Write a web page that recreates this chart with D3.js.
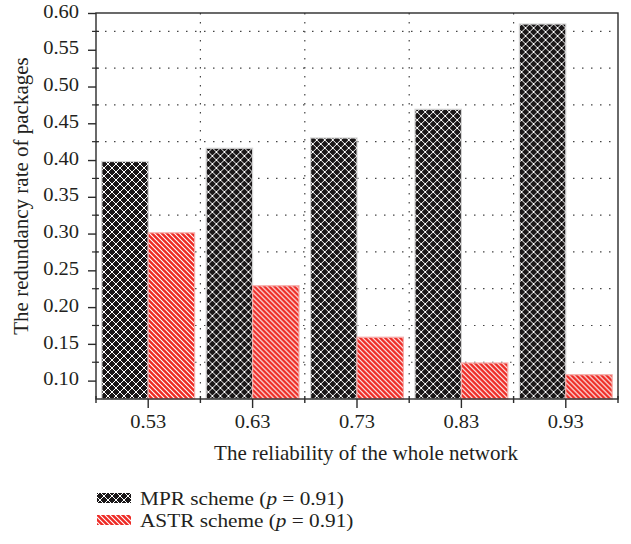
<!DOCTYPE html>
<html>
<head>
<meta charset="utf-8">
<script src="https://cdn.jsdelivr.net/npm/d3@7"></script>
<style>
  html, body { margin: 0; padding: 0; background: #fff; }
  svg { display: block; }
  text { font-family: "Liberation Serif", "Times New Roman", serif; fill: #231f20; }
</style>
</head>
<body>
<svg id="chart" width="631" height="544"></svg>
<script>
// Network reliability levels (x categories)
const categories = ["0.53", "0.63", "0.73", "0.83", "0.93"];
// Redundancy rate of packages for each scheme
const mprValues = [0.398, 0.416, 0.430, 0.469, 0.585];
const astrValues = [0.301, 0.229, 0.159, 0.124, 0.108];
const seriesNames = ["MPR", "ASTR"];
const legendLabels = ["MPR scheme (", "ASTR scheme ("];
const yTickValues = [0.10, 0.15, 0.20, 0.25, 0.30, 0.35, 0.40, 0.45, 0.50, 0.55, 0.60];
const yMinorValues = [0.125, 0.175, 0.225, 0.275, 0.325, 0.375, 0.425, 0.475, 0.525, 0.575];

const rows = categories.map((c, i) => ({ cat: c, MPR: mprValues[i], ASTR: astrValues[i] }));

const svg = d3.select("#chart");
const m = { left: 96, right: 13, top: 13, bottom: 145 };
const W = 631, H = 544;
const x0 = m.left, x1 = W - m.right, yTop = m.top, yBot = H - m.bottom;
const axisColor = "#2b2b2b";
const tickStretch = 1.08;   // digits set slightly wide
const tickFs = "19px";
const titleFs = "21px";

const x = d3.scaleBand().domain(categories).range([x0, x1]).padding(0);
const xs = d3.scaleBand().domain(seriesNames).range([0, x.bandwidth()]).paddingInner(0).paddingOuter(0.125);
const y = d3.scaleLinear().domain([0.075, 0.60]).range([yBot, yTop]);

// Fill patterns
const defs = svg.append("defs");
const cross = defs.append("pattern").attr("id", "patMPR")
  .attr("patternUnits", "userSpaceOnUse").attr("width", 8).attr("height", 8);
cross.append("rect").attr("width", 8).attr("height", 8).attr("fill", "#1a1718");
cross.append("path").attr("d", "M-1,-1 L9,9 M-1,9 L9,-1 M3,-5 L13,5 M-5,3 L5,13 M3,13 L13,3 M-5,5 L5,-5")
  .attr("stroke", "#fff").attr("stroke-width", 1.0);

const diag = defs.append("pattern").attr("id", "patASTR")
  .attr("patternUnits", "userSpaceOnUse").attr("width", 5).attr("height", 5);
diag.append("rect").attr("width", 5).attr("height", 5).attr("fill", "#ee2a24");
diag.append("path").attr("d", "M-1,-1 L6,6 M-1,4 L1,6 M4,-1 L6,1")
  .attr("stroke", "#fff").attr("stroke-width", 1.1);

const fills = { MPR: "url(#patMPR)", ASTR: "url(#patASTR)" };
const outlines = { MPR: "#d4d4d4", ASTR: "#f5aeab" };

// Dotted grid: horizontal at minor y values, vertical at category boundaries
const grid = svg.append("g").attr("stroke", "#444").attr("stroke-width", 1.2)
  .attr("stroke-dasharray", "1.5,7.5");
grid.selectAll("line.h").data(yMinorValues).join("line")
  .attr("x1", x0).attr("x2", x1).attr("y1", d => y(d)).attr("y2", d => y(d));
grid.selectAll("line.v").data(categories.slice(1)).join("line")
  .attr("x1", d => x(d)).attr("x2", d => x(d)).attr("y1", yTop).attr("y2", yBot);

// Bars
const groups = svg.append("g").selectAll("g").data(rows).join("g")
  .attr("transform", d => `translate(${x(d.cat)},0)`);
groups.selectAll("rect").data(d => seriesNames.map(k => ({ key: k, value: d[k] }))).join("rect")
  .attr("x", d => xs(d.key))
  .attr("width", xs.bandwidth())
  .attr("y", d => y(d.value))
  .attr("height", d => yBot - y(d.value))
  .attr("fill", d => fills[d.key])
  .attr("stroke", d => outlines[d.key])
  .attr("stroke-width", 1.2);

// Frame
svg.append("rect").attr("x", x0).attr("y", yTop).attr("width", x1 - x0).attr("height", yBot - yTop)
  .attr("fill", "none").attr("stroke", axisColor).attr("stroke-width", 1.4);

// Y axis
const yAxis = svg.append("g").attr("transform", `translate(${x0},0)`)
  .call(d3.axisLeft(y).tickValues(yTickValues).tickFormat(d3.format(".2f")).tickSize(8).tickPadding(7.7));
yAxis.select(".domain").remove();
yAxis.selectAll(".tick line").attr("stroke", axisColor).attr("stroke-width", 1.4);
yAxis.selectAll(".tick text").style("font-size", tickFs).attr("fill", "#231f20")
  .attr("transform", `scale(${tickStretch},1)`).attr("dy", "0.22em");
svg.append("g").selectAll("line").data(yMinorValues).join("line")
  .attr("x1", x0 - 4).attr("x2", x0 + 3).attr("y1", d => y(d)).attr("y2", d => y(d))
  .attr("stroke", axisColor).attr("stroke-width", 1.2);

// X axis
const xAxis = svg.append("g").attr("transform", `translate(0,${yBot})`)
  .call(d3.axisBottom(x).tickSize(9).tickPadding(7));
xAxis.select(".domain").remove();
xAxis.selectAll(".tick line").attr("stroke", axisColor).attr("stroke-width", 1.4);
xAxis.selectAll(".tick text").style("font-size", tickFs).attr("fill", "#231f20")
  .attr("transform", `scale(${tickStretch},1)`);
const bounds = categories.map(c => x(c)).concat([x1]);
svg.append("g").selectAll("line").data(bounds).join("line")
  .attr("x1", d => d).attr("x2", d => d).attr("y1", yBot - 3).attr("y2", yBot + 4)
  .attr("stroke", axisColor).attr("stroke-width", 1.4);

// Axis titles
svg.append("text").attr("x", 366).attr("y", 460)
  .attr("text-anchor", "middle").style("font-size", titleFs)
  .text("The reliability of the whole network");
svg.append("text").attr("transform", "translate(28,196) rotate(-90)")
  .attr("text-anchor", "middle").style("font-size", titleFs)
  .text("The redundancy rate of packages");

// Legend
const legend = svg.append("g");
seriesNames.forEach((k, i) => {
  const ly = 493 + i * 22;
  legend.append("rect").attr("x", 97).attr("y", ly).attr("width", 34).attr("height", 10)
    .attr("fill", fills[k]);
  const t = legend.append("text").attr("transform", `translate(140,${ly + 12}) scale(1.12,1)`)
    .style("font-size", "19px");
  t.append("tspan").text(legendLabels[i]);
  t.append("tspan").style("font-style", "italic").text("p");
  t.append("tspan").text(" = 0.91)");
});
</script>
</body>
</html>
